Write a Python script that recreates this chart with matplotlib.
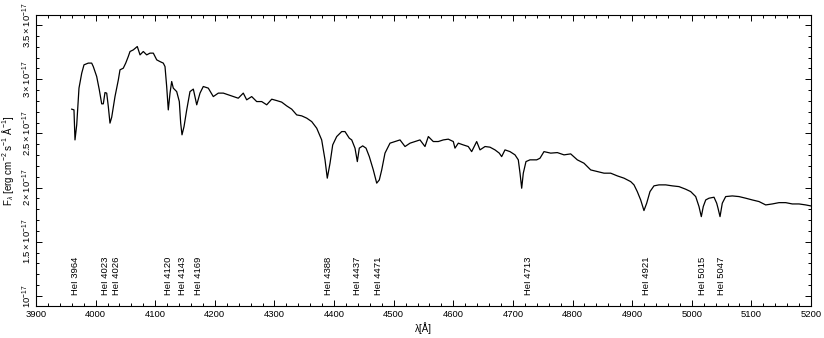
import matplotlib
matplotlib.use("Agg")
import matplotlib.pyplot as plt
from matplotlib.ticker import MultipleLocator, FixedLocator

plt.rcParams['font.family'] = ['Liberation Sans', 'DejaVu Sans']
plt.rcParams['mathtext.fontset'] = 'custom'
plt.rcParams['mathtext.rm'] = 'Liberation Sans'
plt.rcParams['mathtext.it'] = 'Liberation Sans:italic'
plt.rcParams['mathtext.bf'] = 'Liberation Sans:bold'

# Spectrum: wavelength (Angstrom) and flux (units of 1e-17 erg cm^-2 s^-1 A^-1)
wavelength = [
    3959.9, 3963.7, 3965.4, 3968.3, 3972.1, 3976.7, 3980.5, 3987.7, 3993.4, 3996.1,
    4001.8, 4006.2, 4010.2, 4012.9, 4015.7, 4018.6, 4021.3, 4024.1, 4027.0, 4032.5,
    4038.1, 4040.9, 4046.4, 4050.5, 4054.8, 4057.7, 4063.2, 4069.9, 4074.5, 4080.0,
    4085.7, 4091.2, 4096.8, 4102.5, 4108.0, 4113.5, 4116.4, 4119.2, 4121.9, 4124.8,
    4127.6, 4130.3, 4136.0, 4140.4, 4142.7, 4144.9, 4148.3, 4152.8, 4158.3, 4163.9,
    4169.6, 4175.1, 4180.6, 4189.0, 4197.4, 4205.8, 4214.2, 4222.6, 4231.0, 4239.3,
    4247.7, 4253.4, 4261.8, 4270.2, 4278.6, 4287.0, 4295.4, 4303.8, 4312.1, 4320.5,
    4328.9, 4337.3, 4345.7, 4354.1, 4362.5, 4370.9, 4379.2, 4384.8, 4388.6, 4393.2,
    4397.7, 4404.4, 4412.8, 4418.3, 4425.5, 4429.6, 4435.1, 4439.0, 4442.3, 4448.0,
    4453.6, 4459.1, 4465.8, 4471.5, 4475.9, 4479.9, 4485.4, 4493.8, 4502.2, 4510.6,
    4519.0, 4527.4, 4535.7, 4544.1, 4552.5, 4558.1, 4566.4, 4574.8, 4583.2, 4591.6,
    4600.0, 4602.8, 4608.4, 4616.7, 4625.1, 4630.8, 4639.2, 4644.8, 4653.2, 4661.5,
    4669.9, 4677.1, 4681.1, 4686.7, 4695.1, 4703.5, 4709.0, 4711.9, 4714.7, 4717.4,
    4721.9, 4728.6, 4739.9, 4745.4, 4752.1, 4763.4, 4774.5, 4785.7, 4796.9, 4808.0,
    4819.2, 4830.5, 4841.5, 4852.8, 4864.0, 4875.1, 4886.3, 4897.6, 4903.1, 4908.6,
    4914.3, 4919.8, 4924.4, 4929.9, 4936.6, 4945.0, 4956.3, 4967.3, 4978.6, 4989.8,
    4998.2, 5006.6, 5012.1, 5016.0, 5019.3, 5023.4, 5028.9, 5037.3, 5041.8, 5044.0,
    5047.4, 5051.2, 5056.9, 5068.0, 5079.2, 5090.5, 5101.5, 5112.8, 5124.0, 5135.1,
    5146.3, 5157.6, 5168.6, 5179.9, 5191.1, 5199.5,
]
flux = [
    2.724, 2.717, 2.440, 2.579, 2.918, 3.056, 3.133, 3.149, 3.149, 3.117,
    3.025, 2.902, 2.773, 2.773, 2.877, 2.872, 2.748, 2.595, 2.650, 2.840,
    2.994, 3.087, 3.102, 3.149, 3.210, 3.256, 3.271, 3.302, 3.225, 3.256,
    3.225, 3.241, 3.241, 3.179, 3.163, 3.149, 3.117, 2.933, 2.717, 2.872,
    2.979, 2.918, 2.886, 2.794, 2.595, 2.487, 2.563, 2.717, 2.886, 2.909,
    2.764, 2.872, 2.933, 2.918, 2.840, 2.872, 2.872, 2.856, 2.840, 2.825,
    2.872, 2.810, 2.840, 2.794, 2.794, 2.764, 2.816, 2.803, 2.789, 2.754,
    2.724, 2.671, 2.662, 2.641, 2.609, 2.548, 2.440, 2.256, 2.087, 2.225,
    2.394, 2.471, 2.517, 2.517, 2.456, 2.440, 2.364, 2.240, 2.364, 2.385,
    2.364, 2.286, 2.163, 2.041, 2.071, 2.163, 2.318, 2.410, 2.425, 2.440,
    2.379, 2.410, 2.425, 2.440, 2.379, 2.471, 2.425, 2.425, 2.440, 2.447,
    2.425, 2.364, 2.410, 2.394, 2.379, 2.332, 2.425, 2.348, 2.379, 2.373,
    2.348, 2.318, 2.286, 2.348, 2.332, 2.302, 2.256, 2.133, 1.994, 2.133,
    2.240, 2.256, 2.256, 2.271, 2.332, 2.318, 2.323, 2.302, 2.311, 2.256,
    2.225, 2.163, 2.148, 2.133, 2.133, 2.108, 2.087, 2.055, 2.025, 1.963,
    1.886, 1.788, 1.856, 1.963, 2.016, 2.025, 2.025, 2.016, 2.009, 1.985,
    1.963, 1.917, 1.825, 1.732, 1.825, 1.886, 1.902, 1.911, 1.856, 1.810,
    1.732, 1.856, 1.917, 1.923, 1.917, 1.902, 1.886, 1.871, 1.840, 1.849,
    1.861, 1.861, 1.849, 1.849, 1.840, 1.831,
]

# Identified He I lines
line_names = ["HeI 3964", "HeI 4023", "HeI 4026", "HeI 4120", "HeI 4143", "HeI 4169",
              "HeI 4388", "HeI 4437", "HeI 4471", "HeI 4713", "HeI 4921", "HeI 5015",
              "HeI 5047"]
line_wavelengths = [3964, 4023, 4026, 4120, 4143, 4169, 4388, 4437, 4471, 4713,
                    4921, 5015, 5047]

# Axis ticks
x_ticks = [3900, 4000, 4100, 4200, 4300, 4400, 4500, 4600, 4700, 4800, 4900, 5000, 5100, 5200]
y_ticks = [1.0, 1.5, 2.0, 2.5, 3.0, 3.5]
y_tick_labels = [r'$10^{-17}$', r'$1.5\times10^{-17}$', r'$2\times10^{-17}$',
                 r'$2.5\times10^{-17}$', r'$3\times10^{-17}$', r'$3.5\times10^{-17}$']

fig = plt.figure(figsize=(8.24, 3.38), dpi=100)
ax = fig.add_axes([36/824, 1 - 306/338, (811 - 36)/824, (306 - 15)/338])

ax.plot(wavelength, flux, color='black', lw=0.9)

# label layout offsets (Angstrom) so neighbouring labels do not overlap
label_shift = {4023: -6, 4026: 9, 4713: 13}
for name, wl in zip(line_names, line_wavelengths):
    xpos = wl + label_shift.get(wl, 3)
    ax.text(xpos, 1.01, name, rotation=90, ha='center', va='bottom',
            fontsize=6.8, color='black')

ax.set_xlim(3900, 5200)
ax.set_ylim(0.907, 3.593)

ax.xaxis.set_major_locator(FixedLocator(x_ticks))
ax.xaxis.set_minor_locator(MultipleLocator(20))
ax.yaxis.set_major_locator(FixedLocator(y_ticks))
ax.yaxis.set_minor_locator(MultipleLocator(0.1))
ax.set_yticklabels(y_tick_labels, rotation=90, va='center')

ax.tick_params(which='both', direction='in', top=True, right=True,
               labelsize=6.8, width=0.7, colors='black')
ax.tick_params(which='major', length=4)
ax.tick_params(which='minor', length=2.2)
ax.tick_params(axis='x', which='major', pad=3)
ax.tick_params(axis='y', which='major', pad=1.5)

for sp in ax.spines.values():
    sp.set_linewidth(0.8)

ax.set_xlabel('λ[Å]', fontsize=7, labelpad=2)
ax.set_ylabel(r'F$_\lambda$ [erg cm$^{-2}$ s$^{-1}$ Å$^{-1}$]', fontsize=7, labelpad=3)

fig.savefig('out.png', dpi=100)
